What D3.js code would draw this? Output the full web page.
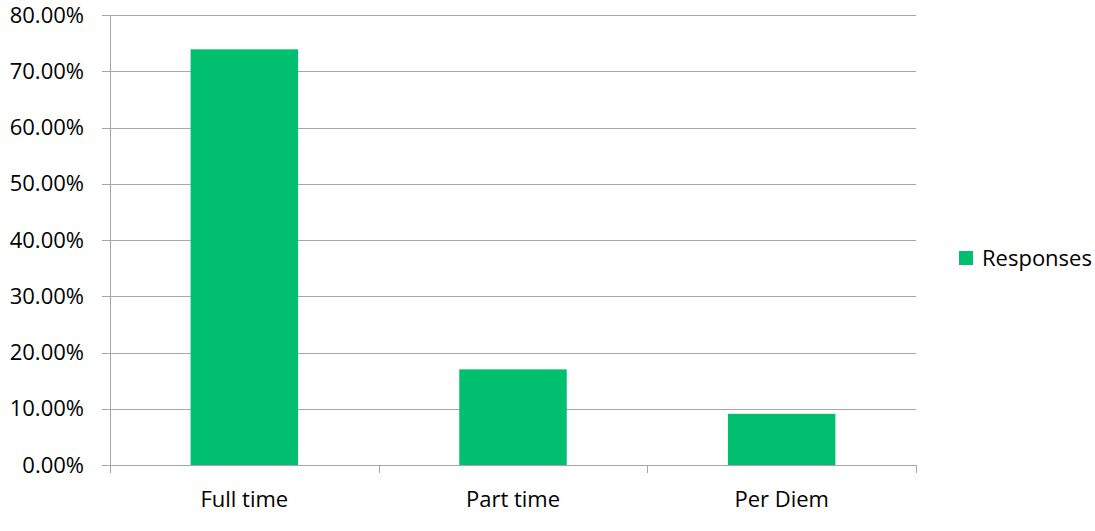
<!DOCTYPE html>
<html>
<head>
<meta charset="utf-8">
<script src="https://cdn.jsdelivr.net/npm/d3@7"></script>
<style>
  body { margin: 0; background: #fff; }
  text { font-family: "Open Sans", "Noto Sans", sans-serif; fill: #000; }
</style>
</head>
<body>
<div class="barChart"></div>
<script>
var categories = ["Full time", "Part time", "Per Diem"];
var values = [0.739, 0.170, 0.091];
var yTicks = [0, 0.1, 0.2, 0.3, 0.4, 0.5, 0.6, 0.7, 0.8];
var seriesName = "Responses";

function init() {
  var w = 1095;
  var h = 531;
  var left = 110, right = 916, top = 15, bottom = 465;
  var barColor = "#00bf6f";
  var gridColor = "#a6a6a6";
  var fontSize = "22px";

  var svg = d3.select(".barChart")
    .append("svg")
    .attr("width", w)
    .attr("height", h);

  var xScale = d3.scaleBand()
    .domain(categories)
    .range([left, right])
    .paddingInner(0.6)
    .paddingOuter(0.3);

  var yScale = d3.scaleLinear()
    .domain([0, 0.8])
    .range([bottom, top]);

  // gridlines
  svg.append("g")
    .selectAll("line")
    .data(yTicks)
    .enter()
    .append("line")
    .attr("x1", left - 8)
    .attr("x2", right)
    .attr("y1", function(d) { return Math.round(yScale(d)) + 0.5; })
    .attr("y2", function(d) { return Math.round(yScale(d)) + 0.5; })
    .style("stroke", gridColor)
    .style("stroke-width", 1);

  // y labels
  svg.append("g")
    .selectAll("text")
    .data(yTicks)
    .enter()
    .append("text")
    .attr("x", 84)
    .attr("y", function(d) { return yScale(d); })
    .attr("dy", "0.35em")
    .attr("text-anchor", "end")
    .style("font-size", fontSize)
    .text(function(d) { return (d * 100).toFixed(2) + "%"; });

  // bars
  svg.selectAll("rect.bar")
    .data(values)
    .enter()
    .append("rect")
    .attr("class", "bar")
    .attr("x", function(d, i) { return xScale(categories[i]); })
    .attr("y", function(d) { return yScale(d); })
    .attr("width", xScale.bandwidth())
    .attr("height", function(d) { return bottom - yScale(d); })
    .style("fill", barColor);

  // y axis line
  svg.append("line")
    .attr("x1", left + 0.5).attr("x2", left + 0.5)
    .attr("y1", top).attr("y2", bottom)
    .style("stroke", gridColor);

  // x axis ticks at band boundaries
  var bounds = d3.range(categories.length + 1).map(function(i) { return left + i * (right - left) / categories.length; });
  svg.append("g")
    .selectAll("line")
    .data(bounds)
    .enter()
    .append("line")
    .attr("x1", function(d) { return Math.round(d) + 0.5; })
    .attr("x2", function(d) { return Math.round(d) + 0.5; })
    .attr("y1", bottom)
    .attr("y2", bottom + 8)
    .style("stroke", gridColor);

  // category labels
  svg.append("g")
    .selectAll("text")
    .data(categories)
    .enter()
    .append("text")
    .attr("x", function(d) { return xScale(d) + xScale.bandwidth() / 2; })
    .attr("y", 507)
    .attr("text-anchor", "middle")
    .style("font-size", fontSize)
    .text(function(d) { return d; });

  // legend
  var legend = svg.append("g")
    .attr("transform", "translate(959,251)");
  legend.append("rect")
    .attr("width", 14)
    .attr("height", 14)
    .style("fill", barColor);
  legend.append("text")
    .attr("x", 23)
    .attr("y", 7)
    .attr("dy", "0.35em")
    .style("font-size", fontSize)
    .text(seriesName);
}

window.onload = init;
</script>
</body>
</html>
